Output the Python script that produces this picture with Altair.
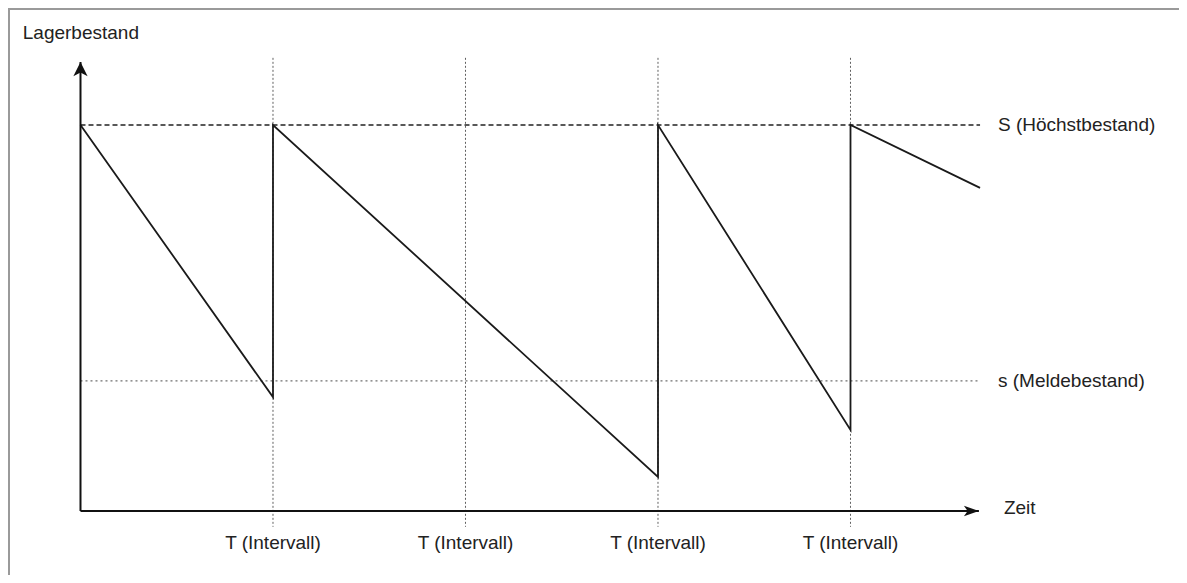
import altair as alt
import pandas as pd

# ---- data ----
T_POS = [1, 2, 3, 4]
T_LABELS = ["T (Intervall)", "T (Intervall)", "T (Intervall)", "T (Intervall)"]
S_MAX = 100.0          # S (Höchstbestand)
S_MELDE = 33.7         # s (Meldebestand)
SAW_T = [0, 1, 1, 3, 3, 4, 4, 4.673]
SAW_V = [100, 29.5, 100, 8.8, 100, 21.0, 100, 83.7]
X_AXIS_END = 4.667
Y_AXIS_END = 116.3
REF_END = 4.673
GUIDE_TOP = 117.4
GUIDE_BOTTOM = -4.1

LABEL_TEXT = ["Lagerbestand", "S (Höchstbestand)", "s (Meldebestand)", "Zeit"]
LABEL_T = [-0.300, 4.766, 4.766, 4.797]
LABEL_V = [123.8, S_MAX, S_MELDE, 0.78]
T_LABEL_V = -8.3

W, H = 1171, 567
XS = alt.Scale(domain=[-0.3766, 5.7065], nice=False, zero=False)
YS = alt.Scale(domain=[-16.58, 130.31], nice=False, zero=False)
FONT = "Liberation Sans"
INK = "#1a1a1a"

def X(f="t"):
    return alt.X(f"{f}:Q", scale=XS, axis=None)

def Y(f="v"):
    return alt.Y(f"{f}:Q", scale=YS, axis=None)

guides = pd.DataFrame({"t": T_POS, "v": [GUIDE_TOP] * 4, "v2": [GUIDE_BOTTOM] * 4, "lab": T_LABELS,
                       "lv": [T_LABEL_V] * 4})
refs = pd.DataFrame({"t": [0, 0], "t2": [REF_END, REF_END], "v": [S_MAX, S_MELDE],
                     "kind": ["S", "s"]})
saw = pd.DataFrame({"t": SAW_T, "v": SAW_V, "o": list(range(len(SAW_T)))})
labels = pd.DataFrame({"t": LABEL_T, "v": LABEL_V, "lab": LABEL_TEXT})

vguides = alt.Chart(guides).mark_rule(color="#606060", strokeWidth=1, strokeDash=[2, 2]).encode(
    x=X(), y=Y(), y2="v2:Q")

s_max_rule = alt.Chart(refs[refs.kind == "S"]).mark_rule(color="#222222", strokeWidth=1.4, strokeDash=[5, 3]).encode(
    x=X(), x2="t2:Q", y=Y())
s_melde_rule = alt.Chart(refs[refs.kind == "s"]).mark_rule(color="#707070", strokeWidth=1.2, strokeDash=[2, 3]).encode(
    x=X(), x2="t2:Q", y=Y())

sawline = alt.Chart(saw).mark_line(color=INK, strokeWidth=1.8).encode(
    x=X(), y=Y(), order="o:Q")

axes_df = pd.DataFrame({"t": [0, 0], "t2": [0, X_AXIS_END], "v": [0, 0], "v2": [Y_AXIS_END, 0]})
axis_rules = alt.Chart(axes_df).mark_rule(color="#111111", strokeWidth=2).encode(
    x=X(), x2="t2:Q", y=Y(), y2="v2:Q")

up_arrow = alt.Chart(pd.DataFrame({"t": [0], "v": [Y_AXIS_END]})).mark_point(
    shape="M0,0L-0.95,1.9L0,1.4L0.95,1.9Z", size=225, filled=True, color="#111111", opacity=1).encode(
    x=X(), y=Y())
right_arrow = alt.Chart(pd.DataFrame({"t": [X_AXIS_END], "v": [0]})).mark_point(
    shape="M0,0L-2,-0.7L-1.5,0L-2,0.7Z", size=225, filled=True, color="#111111", opacity=1).encode(
    x=X(), y=Y())

side_labels = alt.Chart(labels).mark_text(align="left", baseline="middle", font=FONT, fontSize=19,
                                          color="#222222").encode(x=X(), y=Y(), text="lab:N")
t_labels = alt.Chart(guides).mark_text(align="center", baseline="middle", font=FONT, fontSize=19,
                                       color="#222222").encode(x=X(), y=Y("lv"), text="lab:N")

border_left = alt.Chart(pd.DataFrame({"k": [0]})).mark_rule(color="#9a9a9a", strokeWidth=2).encode(
    x=alt.value(1), y=alt.value(0), y2=alt.value(H))
border_top = alt.Chart(pd.DataFrame({"k": [0]})).mark_rule(color="#9a9a9a", strokeWidth=2).encode(
    y=alt.value(1), x=alt.value(0), x2=alt.value(W))

chart = alt.layer(
    vguides, s_max_rule, s_melde_rule, sawline, axis_rules, up_arrow, right_arrow,
    side_labels, t_labels, border_left, border_top
).properties(
    width=W, height=H, padding=0, autosize=alt.AutoSizeParams(type="none")
).configure_view(stroke=None).configure(background="white")

chart.save("out.html", embed_options={"renderer": "svg", "actions": False})
